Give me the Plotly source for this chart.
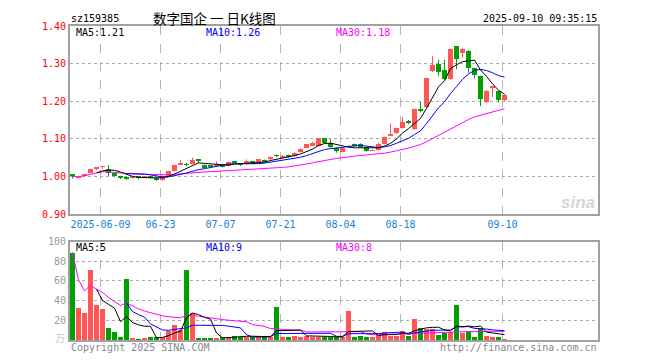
import plotly.graph_objects as go
import pandas as pd

# ---------------- data ----------------
tick_idx = [5, 15, 25, 35, 45, 55, 72]
tick_labels = ["2025-06-09", "06-23", "07-07", "07-21", "08-04", "08-18", "09-10"]

open_ = [1.006, 0.996, 1.003, 1.009, 1.022, 1.025, 1.021, 1.008, 1.001, 0.995,
         0.996, 0.998, 0.998, 0.998, 0.996, 0.990, 1.001, 1.014, 1.031, 1.032,
         1.034, 1.043, 1.031, 1.028, 1.027, 1.028, 1.029, 1.039, 1.032, 1.032,
         1.040, 1.038, 1.044, 1.045, 1.056, 1.050, 1.055, 1.054, 1.064, 1.076,
         1.081, 1.081, 1.101, 1.088, 1.076, 1.066, 1.079, 1.086, 1.087, 1.078,
         1.068, 1.069, 1.086, 1.109, 1.115, 1.130, 1.146, 1.126, 1.178, 1.185,
         1.281, 1.300, 1.282, 1.259, 1.346, 1.329, 1.334, 1.287, 1.267, 1.198,
         1.236, 1.226, 1.202]
high_ = [1.006, 1.000, 1.007, 1.020, 1.023, 1.026, 1.030, 1.010, 1.002, 0.997,
         0.999, 0.999, 1.001, 0.999, 0.997, 1.002, 1.015, 1.031, 1.044, 1.036,
         1.050, 1.043, 1.032, 1.030, 1.040, 1.030, 1.039, 1.041, 1.034, 1.045,
         1.041, 1.046, 1.045, 1.053, 1.058, 1.057, 1.058, 1.064, 1.074, 1.086,
         1.092, 1.102, 1.102, 1.099, 1.077, 1.077, 1.082, 1.087, 1.088, 1.079,
         1.071, 1.090, 1.106, 1.141, 1.130, 1.158, 1.150, 1.180, 1.198, 1.262,
         1.320, 1.310, 1.310, 1.340, 1.347, 1.341, 1.336, 1.289, 1.268, 1.230,
         1.240, 1.228, 1.219]
low_ = [0.994, 0.995, 1.002, 1.008, 1.017, 1.020, 1.001, 1.000, 0.993, 0.991,
        0.994, 0.993, 0.996, 0.995, 0.988, 0.988, 1.000, 1.013, 1.030, 1.027,
        1.032, 1.036, 1.022, 1.024, 1.026, 1.024, 1.028, 1.035, 1.028, 1.031,
        1.034, 1.037, 1.037, 1.044, 1.051, 1.049, 1.050, 1.053, 1.063, 1.075,
        1.080, 1.080, 1.086, 1.076, 1.063, 1.063, 1.077, 1.079, 1.077, 1.066,
        1.067, 1.068, 1.085, 1.107, 1.113, 1.127, 1.139, 1.124, 1.170, 1.183,
        1.278, 1.268, 1.257, 1.257, 1.285, 1.316, 1.276, 1.261, 1.187, 1.195,
        1.211, 1.197, 1.200]
close_ = [1.000, 0.999, 1.006, 1.019, 1.023, 1.026, 1.010, 1.003, 0.996, 0.994,
          0.997, 0.997, 0.999, 0.997, 0.990, 1.001, 1.014, 1.030, 1.034, 1.031,
          1.043, 1.042, 1.023, 1.027, 1.034, 1.027, 1.038, 1.038, 1.031, 1.041,
          1.035, 1.045, 1.038, 1.052, 1.055, 1.055, 1.054, 1.061, 1.073, 1.085,
          1.090, 1.101, 1.088, 1.078, 1.067, 1.076, 1.080, 1.080, 1.078, 1.068,
          1.069, 1.085, 1.104, 1.113, 1.128, 1.146, 1.144, 1.178, 1.176, 1.261,
          1.296, 1.279, 1.260, 1.338, 1.311, 1.338, 1.289, 1.270, 1.206, 1.228,
          1.238, 1.204, 1.217]
volume = [89, 33, 28, 72, 36, 32, 13, 9, 3, 62,
          2, 1, 2, 3, 3, 4, 10, 16, 11, 72,
          28, 2, 2, 2, 2, 3, 3, 5, 4, 4,
          3, 3, 3, 4, 34, 4, 3, 5, 4, 5,
          4, 3, 3, 3, 3, 4, 30, 4, 5, 4,
          3, 6, 9, 5, 5, 10, 5, 22, 13, 12,
          12, 6, 8, 9, 36, 8, 10, 4, 13, 5,
          4, 4, 1]

# ---------------- styling ----------------
RED = "#ff5555"
GREEN = "#00a000"
MONO = "DejaVu Sans Mono"
OFF = 8                      # page body margin of the browser
W, H = 660 - OFF, 360 - OFF
L_PX, R_PX, T_PX, B_PX = 70, 598, 21, 340   # window pixel positions of plot box


def px_x(px):
    return (px - L_PX) / (R_PX - L_PX)


def px_y(py):
    return (B_PX - py) / (B_PX - T_PX)


n = len(close_)
idx = list(range(n))
rising = [c >= o for o, c in zip(open_, close_)]
colors = [RED if r else GREEN for r in rising]
body_base = [min(o, c) for o, c in zip(open_, close_)]
body_h = [max(abs(c - o), 0.0018) for o, c in zip(open_, close_)]


def nn(s):
    return [None if pd.isna(v) else v for v in s]


cs = pd.Series(close_)
ma5 = nn(cs.rolling(5).mean())
ma10 = nn(cs.rolling(10).mean())
ma30 = nn(cs.rolling(30, min_periods=1).mean())
vs = pd.Series(volume, dtype=float)
vma5 = nn(vs.rolling(5).mean())
vma10 = nn(vs.rolling(10).mean())
vma30 = nn(vs.rolling(30, min_periods=1).mean())

fig = go.Figure()

# wicks
for col, flag in ((RED, True), (GREEN, False)):
    wx, wy = [], []
    for i in idx:
        if rising[i] == flag:
            wx += [i, i, None]
            wy += [low_[i], high_[i], None]
    fig.add_trace(go.Scatter(x=wx, y=wy, mode="lines", line=dict(color=col, width=1),
                             hoverinfo="skip", xaxis="x", yaxis="y"))

# bodies
fig.add_trace(go.Bar(x=idx, y=body_h, base=body_base, width=0.8333,
                     marker=dict(color=colors, line=dict(width=0)),
                     xaxis="x", yaxis="y"))

# price MAs
for ser, col in ((ma30, "#ff00ff"), (ma10, "#0000ff"), (ma5, "#000000")):
    fig.add_trace(go.Scatter(x=idx, y=ser, mode="lines", line=dict(color=col, width=1),
                             xaxis="x", yaxis="y"))

# volume
fig.add_trace(go.Bar(x=idx, y=volume, width=0.8333,
                     marker=dict(color=colors, line=dict(width=0)),
                     xaxis="x2", yaxis="y2"))
for ser, col in ((vma30, "#ff00ff"), (vma10, "#0000ff"), (vma5, "#000000")):
    fig.add_trace(go.Scatter(x=idx, y=ser, mode="lines", line=dict(color=col, width=1),
                             xaxis="x2", yaxis="y2"))

xr = [-2.5 / 6, -2.5 / 6 + (R_PX - L_PX) / 6]
tickvals = [i - 0.33 for i in tick_idx]
common_x = dict(range=xr, tickvals=tickvals, showgrid=True, griddash="dash",
                gridcolor="#b4b4b4", gridwidth=1, showline=True, mirror=True,
                linecolor="#a0a0a0", linewidth=2, zeroline=False, ticks="",
                fixedrange=True)

fig.update_layout(
    width=W, height=H,
    margin=dict(l=L_PX - OFF, r=660 - R_PX, t=T_PX - OFF, b=360 - B_PX, pad=0),
    paper_bgcolor="white", plot_bgcolor="white",
    showlegend=False, barmode="overlay", bargap=0,
    xaxis=dict(common_x, domain=[0, 1], anchor="y", ticktext=tick_labels,
               tickfont=dict(family=MONO, size=10, color="#1a7fd4")),
    xaxis2=dict(common_x, domain=[0, 1], anchor="y2", matches="x",
                showticklabels=False),
    yaxis=dict(domain=[px_y(212), 1], range=[0.9, 1.4], anchor="x",
               tickvals=[0.9, 1.0, 1.1, 1.2, 1.3, 1.4], tickformat=".2f",
               tickfont=dict(family=MONO, size=10, color="#ff0000"),
               showgrid=True, griddash="dot", gridcolor="#aaaaaa",
               showline=True, mirror=True, linecolor="#a0a0a0", linewidth=2,
               zeroline=False, ticks="", fixedrange=True),
    yaxis2=dict(domain=[0, px_y(240)], range=[0, 100], anchor="x2",
                tickvals=[20, 40, 60, 80, 100],
                tickfont=dict(family=MONO, size=10, color="#999999"),
                showgrid=True, griddash="dot", gridcolor="#aaaaaa",
                showline=True, mirror=True, linecolor="#a0a0a0", linewidth=2,
                zeroline=False, ticks="", fixedrange=True),
)


def ann(text, px, py, color="#000000", size=10, xanchor="left", family=MONO, **kw):
    fig.add_annotation(text=text, x=px_x(px), y=px_y(py), xref="paper", yref="paper",
                       showarrow=False, xanchor=xanchor, yanchor="middle",
                       font=dict(family=family, size=size, color=color), **kw)


# header
ann("sz159385", 69, 13, size=10)
ann("数字国企 一 日K线图", 214, 13, size=13.5, xanchor="center",
    family="Noto Sans CJK SC")
ann("2025-09-10 09:35:15", 599, 13, size=10, xanchor="right")

# MA labels (price)
ann("MA5:1.21", 74, 28)
ann("MA10:1.26", 204, 28, color="#0000ff")
ann("MA30:1.18", 334, 28, color="#ff00ff")

# MA labels (volume)
ann("MA5:5", 74, 246)
ann("MA10:9", 204, 246, color="#0000ff")
ann("MA30:8", 334, 246, color="#ff00ff")

# volume unit
ann("万", 60, 337, color="#c8c8c8", size=10, xanchor="center",
    family="Noto Sans CJK SC")

# watermark
ann("<b><i>sina</i></b>", 578, 200, color="#d6d6d6", size=17, xanchor="center",
    family="Liberation Sans")

# footer
ann("Copyright 2025 SINA.COM", 69, 348, color="#888888")
ann("http://finance.sina.com.cn", 599, 348, color="#888888", xanchor="right")

fig.write_html("out.html")
